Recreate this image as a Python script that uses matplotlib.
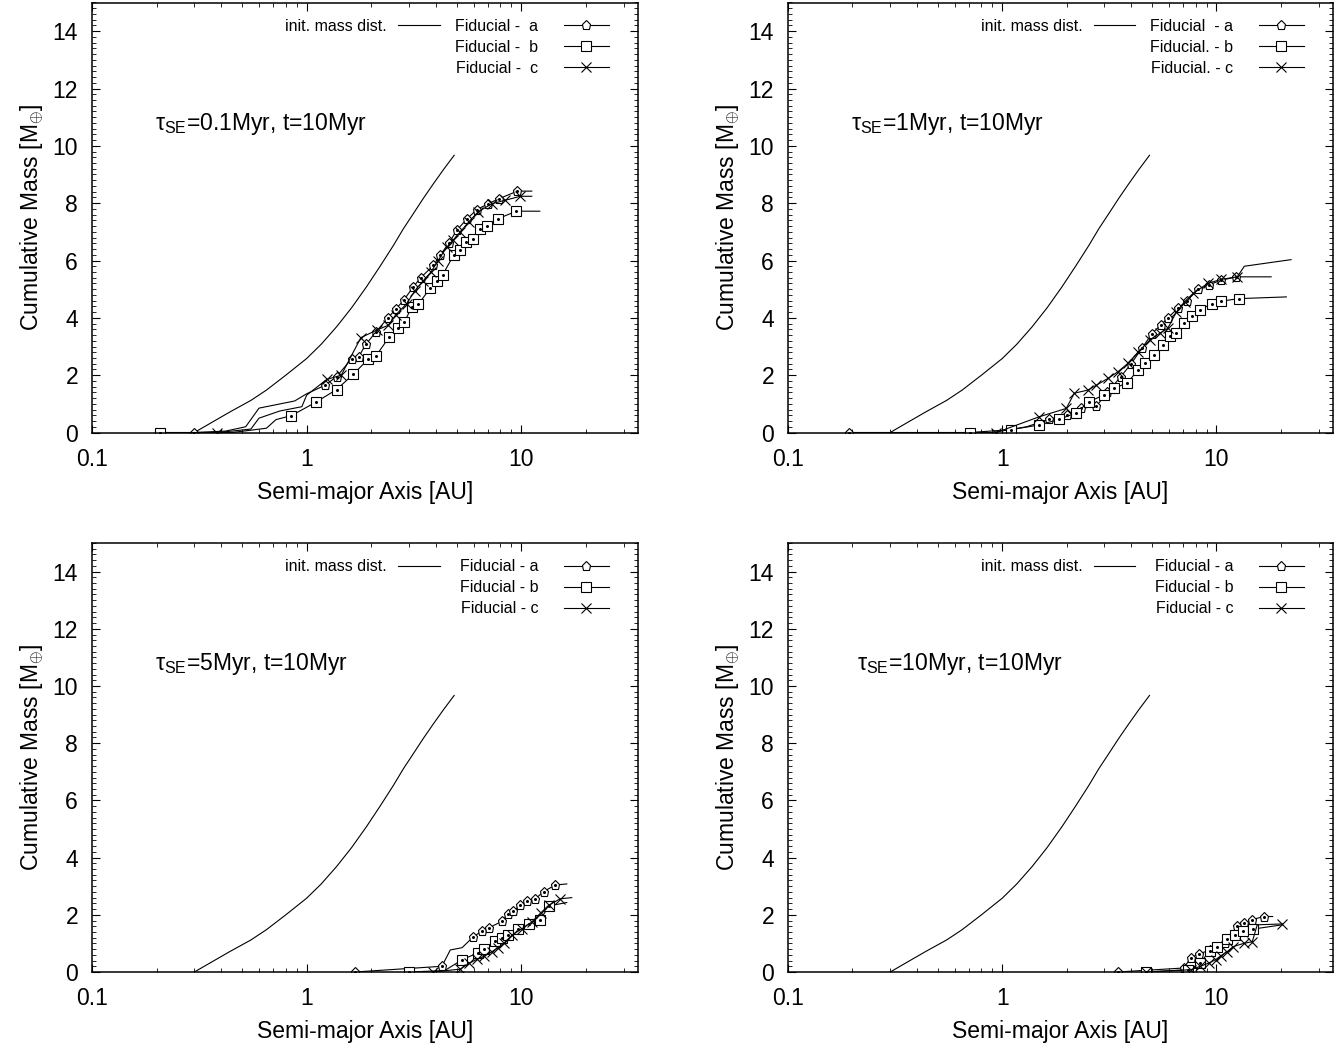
import matplotlib
matplotlib.use("Agg")
import matplotlib.pyplot as plt
from matplotlib.lines import Line2D
from matplotlib.ticker import FixedLocator, LogLocator, MultipleLocator, NullFormatter, FuncFormatter

plt.rcParams["font.family"] = ["Liberation Sans", "DejaVu Sans"]
plt.rcParams["mathtext.fontset"] = "custom"
plt.rcParams["mathtext.rm"] = "Liberation Sans"
plt.rcParams["mathtext.it"] = "Liberation Sans:italic"
plt.rcParams["mathtext.bf"] = "Liberation Sans:bold"

# initial mass distribution (same in every panel)
init_a = [0.30, 0.367, 0.44, 0.55, 0.65, 0.8, 1.0, 1.17, 1.38, 1.62, 1.9, 2.2, 2.54,
          2.82, 3.14, 3.5, 3.9, 4.35, 4.87]
init_m = [0.0, 0.38, 0.72, 1.12, 1.48, 2.0, 2.58, 3.08, 3.69, 4.35, 5.08, 5.8, 6.53,
          7.1, 7.63, 8.17, 8.68, 9.18, 9.67]

# tau_SE = 0.1 Myr
p1_a_x = [0.30, 0.42, 0.52, 0.60, 0.88, 1.0, 1.22, 1.38, 1.62, 1.75, 1.89, 2.1, 2.4, 2.6,
          2.83, 3.14, 3.4, 3.9, 4.2, 4.6, 5.0, 5.6, 6.2, 7.0, 7.9, 9.6, 11.2]
p1_a_m = [0, 0.05, 0.2, 0.85, 1.1, 1.35, 1.65, 1.95, 2.57, 2.65, 3.08, 3.5, 4.01, 4.3,
          4.61, 5.08, 5.4, 5.83, 6.2, 6.6, 7.05, 7.46, 7.77, 7.98, 8.16, 8.42, 8.42]
p1_a_mk = [0] + list(range(6, 26))
p1_b_x = [0.207, 0.45, 0.55, 0.65, 0.72, 0.85, 1.10, 1.38, 1.65, 1.93, 2.10, 2.43, 2.66, 2.85,
          3.09, 3.32, 3.77, 4.04, 4.31, 4.84, 5.2, 5.55, 5.96, 6.45, 6.9, 7.8, 9.5, 12.2]
p1_b_m = [0, 0, 0.08, 0.15, 0.45, 0.59, 1.05, 1.50, 2.03, 2.55, 2.66, 3.34, 3.63, 3.84,
          4.38, 4.48, 5.04, 5.29, 5.51, 6.18, 6.38, 6.65, 6.74, 7.11, 7.2, 7.46, 7.72, 7.72]
p1_b_mk = [0] + list(range(5, 27))
p1_c_x = [0.383, 0.45, 0.55, 0.60, 0.75, 0.95, 1.0, 1.24, 1.45, 1.79, 2.12, 2.40, 2.6, 2.93,
          3.2, 3.5, 3.8, 4.1, 4.5, 4.8, 5.2, 5.7, 6.3, 7.3, 8.4, 9.9, 11.2]
p1_c_m = [0, 0.05, 0.12, 0.5, 0.75, 0.9, 1.3, 1.85, 2.0, 3.31, 3.57, 3.74, 4.1, 4.5,
          4.95, 5.3, 5.6, 6.0, 6.47, 6.7, 7.0, 7.35, 7.7, 7.98, 8.1, 8.24, 8.24]
p1_c_mk = [0] + list(range(7, 26))

# tau_SE = 1 Myr
p2_a_x = [0.193, 0.9, 1.3, 1.646, 2.0, 2.34, 2.75, 3.1, 3.57, 4.0, 4.5, 5.0, 5.5, 5.95,
          6.6, 7.3, 8.2, 9.2, 10.5, 12.4, 18.0]
p2_a_m = [0, 0, 0.2, 0.46, 0.6, 0.84, 0.92, 1.4, 1.94, 2.4, 2.95, 3.45, 3.75, 4.01,
          4.33, 4.6, 4.99, 5.15, 5.31, 5.43, 5.43]
p2_a_mk = [0] + list(range(3, 20))
p2_b_x = [0.71, 1.1, 1.48, 1.85, 2.22, 2.54, 2.98, 3.32, 3.84, 4.30, 4.62, 5.1, 5.63, 6.04,
          6.5, 7.05, 7.66, 8.36, 9.5, 10.5, 12.7, 21.2]
p2_b_m = [0, 0.1, 0.26, 0.46, 0.69, 1.07, 1.31, 1.54, 1.73, 2.18, 2.41, 2.70, 3.05, 3.36,
          3.48, 3.82, 4.06, 4.29, 4.48, 4.58, 4.67, 4.73]
p2_b_mk = list(range(0, 21))
p2_c_x = [0.94, 1.49, 1.99, 2.17, 2.51, 2.75, 3.12, 3.47, 3.86, 4.3, 4.88, 5.43, 5.92, 6.5,
          7.1, 7.78, 9.1, 10.5, 12.5, 13.5, 22.3]
p2_c_m = [0, 0.55, 0.84, 1.37, 1.48, 1.65, 1.89, 2.12, 2.41, 2.8, 3.22, 3.46, 3.63, 4.2,
          4.56, 4.85, 5.20, 5.34, 5.43, 5.8, 6.03]
p2_c_mk = list(range(0, 19))

# tau_SE = 5 Myr
p3_a_x = [1.68, 4.27, 4.67, 5.3, 5.96, 6.54, 7.05, 8.12, 8.7, 9.2, 9.9, 10.6, 11.6, 12.7, 14.4, 16.3]
p3_a_m = [0, 0.2, 0.77, 0.85, 1.22, 1.43, 1.54, 1.77, 2.04, 2.12, 2.35, 2.47, 2.55, 2.81, 3.04, 3.08]
p3_a_mk = [0, 1] + list(range(4, 15))
p3_b_x = [3.01, 4.4, 5.28, 6.32, 6.72, 7.55, 8.1, 8.7, 9.7, 10.9, 12.2, 13.5, 16.3]
p3_b_m = [0, 0.05, 0.42, 0.68, 0.8, 1.09, 1.2, 1.29, 1.50, 1.67, 1.81, 2.31, 2.43]
p3_b_mk = [0] + list(range(2, 12))
p3_c_x = [3.87, 5.2, 5.7, 6.2, 6.7, 7.3, 7.8, 8.28, 9.06, 10.1, 11.2, 12.3, 13.4, 15.2, 17.2]
p3_c_m = [0, 0.1, 0.3, 0.44, 0.55, 0.71, 0.85, 1.0, 1.29, 1.52, 1.75, 2.06, 2.33, 2.56, 2.6]
p3_c_mk = list(range(0, 14))

# tau_SE = 10 Myr
p4_a_x = [3.46, 7.04, 7.6, 8.25, 9.37, 10.1, 11.0, 12.5, 13.4, 14.7, 16.6, 18.3]
p4_a_m = [0, 0.14, 0.5, 0.63, 0.77, 0.89, 1.0, 1.61, 1.71, 1.83, 1.94, 1.94]
p4_a_mk = list(range(0, 11))
p4_b_x = [4.7, 7.4, 8.4, 9.3, 10.1, 11.2, 12.2, 13.3, 14.8, 20.3]
p4_b_m = [0, 0.08, 0.31, 0.75, 0.87, 1.15, 1.3, 1.42, 1.5, 1.65]
p4_b_mk = list(range(0, 9))
p4_c_x = [4.7, 7.6, 8.4, 9.2, 9.9, 10.5, 11.2, 12.0, 13.4, 14.7, 15.5, 20.3]
p4_c_m = [0, 0.08, 0.2, 0.31, 0.43, 0.57, 0.71, 0.89, 1.0, 1.06, 1.65, 1.68]
p4_c_mk = [0, 1, 2, 3, 4, 5, 6, 7, 8, 9, 11]

titles = ["0.1Myr", "1Myr", "5Myr", "10Myr"]
leg_labels = [
    ["Fiducial -  a", "Fiducial -  b", "Fiducial -  c"],
    ["Fiducial  - a", "Fiducial. - b", "Fiducial. - c"],
    ["Fiducial - a", "Fiducial - b", "Fiducial - c"],
    ["Fiducial - a", "Fiducial - b", "Fiducial - c"],
]

panels = [
    [(p1_a_x, p1_a_m, p1_a_mk), (p1_b_x, p1_b_m, p1_b_mk), (p1_c_x, p1_c_m, p1_c_mk)],
    [(p2_a_x, p2_a_m, p2_a_mk), (p2_b_x, p2_b_m, p2_b_mk), (p2_c_x, p2_c_m, p2_c_mk)],
    [(p3_a_x, p3_a_m, p3_a_mk), (p3_b_x, p3_b_m, p3_b_mk), (p3_c_x, p3_c_m, p3_c_mk)],
    [(p4_a_x, p4_a_m, p4_a_mk), (p4_b_x, p4_b_m, p4_b_mk), (p4_c_x, p4_c_m, p4_c_mk)],
]

W, H = 1343, 1046
# axes boxes in pixels: left, top, right, bottom
boxes = [(92, 2.5, 638, 432.5), (788, 2.5, 1333, 432.5),
         (92, 543, 638, 972), (788, 543, 1333, 972)]
text_x = [0.115, 0.115, 0.115, 0.127]

styles = [
    dict(marker="p", ms=6.5, mfc="white", mec="k", mew=0.8),
    dict(marker="s", ms=6.5, mfc="white", mec="k", mew=0.8),
    dict(marker="x", ms=7.5, mec="k", mew=0.8),
]
LW = 0.8
FS = 16.5

fig = plt.figure(figsize=(W / 100, H / 100), dpi=100)

for i, (l, t, r, b) in enumerate(boxes):
    ax = fig.add_axes([l / W, 1 - b / H, (r - l) / W, (b - t) / H])
    ax.plot(init_a, init_m, color="k", lw=LW)
    for (xs, ms, mk), st in zip(panels[i], styles):
        ax.plot(xs, ms, color="k", lw=LW, markevery=mk, **st)
        if st["marker"] != "x":
            ax.plot(xs, ms, color="k", lw=0, marker="o", ms=1.2, markevery=mk)

    ax.set_xscale("log")
    ax.set_xlim(0.1, 35)
    ax.set_ylim(0, 15)
    ax.xaxis.set_major_locator(FixedLocator([0.1, 1, 10]))
    ax.xaxis.set_major_formatter(FuncFormatter(lambda v, p: "%g" % v))
    ax.xaxis.set_minor_locator(LogLocator(base=10, subs=range(2, 10)))
    ax.xaxis.set_minor_formatter(NullFormatter())
    ax.yaxis.set_major_locator(FixedLocator([0, 2, 4, 6, 8, 10, 12, 14]))
    ax.yaxis.set_minor_locator(MultipleLocator(0.2))
    ax.tick_params(which="both", direction="in", top=True, right=True, labelsize=FS)
    ax.tick_params(which="major", length=6, width=0.8)
    ax.tick_params(which="minor", length=3, width=0.6)
    ax.tick_params(axis="y", pad=10)
    ax.tick_params(axis="x", pad=11)
    for s in ax.spines.values():
        s.set_linewidth(1.1)

    ax.set_xlabel("Semi-major Axis [AU]", fontsize=FS, labelpad=7)
    ax.set_ylabel(r"Cumulative Mass [M$_{\oplus}$]", fontsize=FS, labelpad=5)

    ax.text(text_x[i], 0.703, "\u03c4$_{\\rm SE}$=" + titles[i] + ", t=10Myr",
            transform=ax.transAxes, fontsize=FS, va="baseline", ha="left")

    h_init = Line2D([], [], color="k", lw=LW)
    leg1 = ax.legend([h_init], ["init. mass dist."], loc="upper right",
                     bbox_to_anchor=(0.637, 0.962), frameon=False, markerfirst=False,
                     fontsize=11.5, handlelength=2.6, handletextpad=0.7, borderpad=0,
                     borderaxespad=0)
    ax.add_artist(leg1)
    hs = [Line2D([], [], color="k", lw=LW, **st) for st in styles]
    ax.legend(hs, leg_labels[i], loc="upper right", bbox_to_anchor=(0.946, 0.962),
              frameon=False, markerfirst=False, fontsize=11.5, handlelength=2.8,
              handletextpad=1.6, labelspacing=0.37, borderpad=0, borderaxespad=0)

fig.savefig("out.png", dpi=100)
